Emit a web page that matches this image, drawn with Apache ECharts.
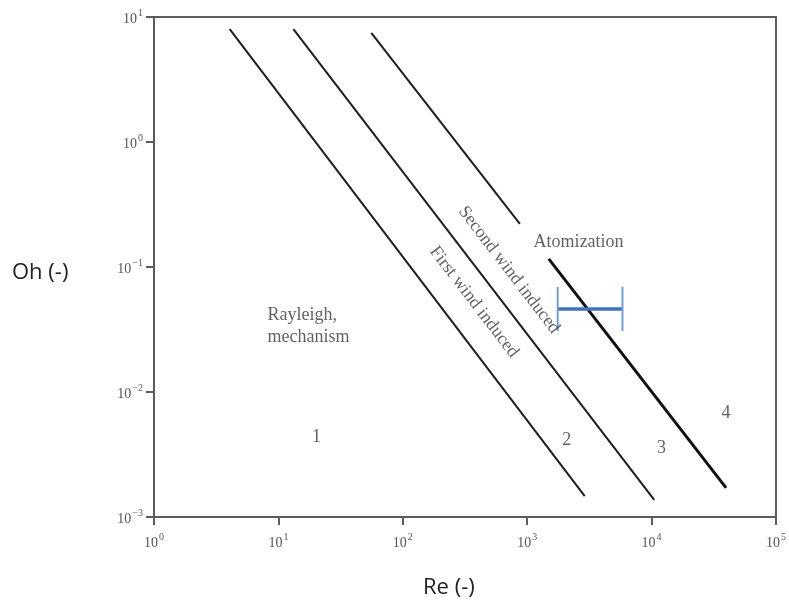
<!DOCTYPE html>
<html>
<head>
<meta charset="utf-8">
<script src="https://cdn.jsdelivr.net/npm/echarts@6/dist/echarts.min.js"></script>
<style>
  html, body { margin: 0; padding: 0; background: #fff; }
  #chart { width: 789px; height: 604px; }
</style>
</head>
<body>
<div id="chart"></div>
<script>
// Regime boundaries in the Ohnesorge–Reynolds plane (endpoints of each boundary line)
const rayleighBoundary = [[4.06, 8.0], [2900, 0.00147]];
const firstWindBoundary = [[13.2, 8.0], [10500, 0.00137]];
const secondWindUpper = [[55.8, 7.45], [873, 0.221]];
const atomizationBoundary = [[1490, 0.116], [39700, 0.00171]];

// Operating range (Re span at a fixed Oh)
const rangeOh = 0.0461;
const rangeRe = [1758, 5834];
const rangeCapOh = [0.0307, 0.0694];

// Region and boundary annotations: [Re, Oh, text]
const regionLabels = [
  [8.19, 0.0337, 'Rayleigh,\nmechanism'],
  [20.2, 0.00437, '1'],
  [2076, 0.00413, '2'],
  [11990, 0.00356, '3'],
  [39700, 0.00679, '4'],
  [2590, 0.158, 'Atomization']
];
const boundaryLabels = [
  [373, 0.0525, 'First wind induced'],
  [713, 0.0946, 'Second wind induced']
];

const serif = '"Liberation Serif", "DejaVu Serif", serif';
const sans = '"Open Sans", "Noto Sans", sans-serif';

function powerLabel(v) {
  const e = Math.round(Math.log10(v));
  const exp = e < 0 ? '\u2212' + Math.abs(e) : String(e);
  return '{b|10}{s|' + exp + '}';
}
const tickRich = {
  b: { fontFamily: serif, fontSize: 14, color: '#555', lineHeight: 18, verticalAlign: 'bottom' },
  s: { fontFamily: serif, fontSize: 10, color: '#555', lineHeight: 18, verticalAlign: 'top', padding: [0, 0, 0, 1] }
};

const chart = echarts.init(document.getElementById('chart'));

function lineSeries(data, color, width) {
  return {
    type: 'line', data: data, symbol: 'none', silent: true,
    lineStyle: { color: color, width: width }, z: 3
  };
}

const option = {
  animation: false,
  grid: {
    left: 154, right: 11, top: 17, bottom: 87,
    show: true, borderColor: '#5c5c5c', borderWidth: 2
  },
  xAxis: {
    type: 'log', logBase: 10, min: 1, max: 100000,
    axisLine: { show: true, lineStyle: { color: '#5c5c5c', width: 2 } },
    axisTick: { show: true, length: 8, lineStyle: { color: '#5c5c5c', width: 2 } },
    minorTick: { show: false },
    splitLine: { show: false },
    axisLabel: { formatter: powerLabel, rich: tickRich, margin: 15, showMinLabel: true, showMaxLabel: true }
  },
  yAxis: {
    type: 'log', logBase: 10, min: 0.001, max: 10,
    axisLine: { show: true, lineStyle: { color: '#5c5c5c', width: 2 } },
    axisTick: { show: true, length: 8, lineStyle: { color: '#5c5c5c', width: 2 } },
    splitLine: { show: false },
    axisLabel: { formatter: powerLabel, rich: tickRich, margin: 11, showMinLabel: true, showMaxLabel: true }
  },
  series: [
    lineSeries(rayleighBoundary, '#1e1e1e', 2),
    lineSeries(firstWindBoundary, '#1e1e1e', 2),
    lineSeries(secondWindUpper, '#1e1e1e', 2),
    lineSeries(atomizationBoundary, '#111', 3),
    lineSeries([[rangeRe[0], rangeOh], [rangeRe[1], rangeOh]], '#3f72b8', 3.5),
    lineSeries([[rangeRe[0], rangeCapOh[0]], [rangeRe[0], rangeCapOh[1]]], '#6f9fd8', 2),
    lineSeries([[rangeRe[1], rangeCapOh[0]], [rangeRe[1], rangeCapOh[1]]], '#6f9fd8', 2),
    {
      type: 'scatter', symbolSize: 0, silent: true, z: 4,
      data: regionLabels.map(d => ({
        value: [d[0], d[1]],
        label: {
          show: true, position: 'inside', formatter: d[2],
          align: d[2].indexOf('Rayleigh') === 0 ? 'left' : 'center',
          verticalAlign: 'middle',
          fontFamily: serif, fontSize: 18, color: '#3a3a3a', lineHeight: 22
        }
      }))
    },
    {
      type: 'scatter', symbolSize: 0, silent: true, z: 4,
      data: boundaryLabels.map(d => ({
        value: [d[0], d[1]],
        label: {
          show: true, position: 'inside', formatter: d[2], rotate: -52.6,
          align: 'center', verticalAlign: 'middle',
          fontFamily: serif, fontSize: 18, color: '#3a3a3a'
        }
      }))
    }
  ],
  graphic: [
    { type: 'text', left: 12, top: 262, style: { text: 'Oh (-)', font: '22px ' + sans, fill: '#222' } },
    { type: 'text', left: 423, top: 577, style: { text: 'Re (-)', font: '22px ' + sans, fill: '#222' } }
  ]
};
chart.setOption(option);
</script>
</body>
</html>
